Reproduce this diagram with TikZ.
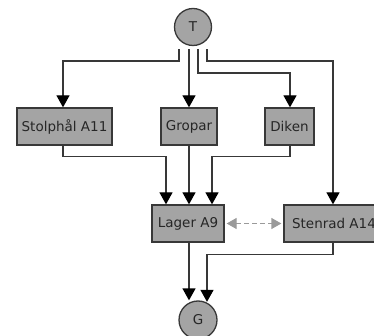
\documentclass[tikz,border=0pt]{standalone}
\usepackage{fontspec}
\setmainfont{DejaVu Sans}
\usetikzlibrary{arrows.meta}
\definecolor{boxfill}{HTML}{A4A4A4}
\definecolor{edge}{HTML}{383838}
\definecolor{dashc}{HTML}{9A9A9A}
\begin{document}
\begin{tikzpicture}[x=1pt,y=1pt,
  every node/.style={font=\fontsize{13.5}{15}\selectfont, text=black!85},
  stepbox/.style={draw=edge, fill=boxfill, line width=1.3pt, inner sep=0pt, minimum height=37pt},
  endpt/.style={circle, draw=edge, fill=boxfill, line width=1.3pt, inner sep=0pt, minimum size=37pt},
  flow/.style={draw=edge, line width=1.3pt, -{Triangle[length=12pt,width=13pt,color=black,fill=black]}},
  link/.style={draw=dashc, line width=1.3pt, dashed, dash pattern=on 5pt off 3pt, {Triangle[length=10pt,width=11pt]}-{Triangle[length=10pt,width=11pt]}, shorten <=2pt, shorten >=2pt}]
\useasboundingbox (0,0) rectangle (374,-336);
\clip (0,0) rectangle (374,-336);
\node[endpt] (T) at (193,-27) {T};
\node[stepbox, minimum width=95pt] (stolp) at (64.5,-126.5) {Stolphål A11};
\node[stepbox, minimum width=56pt] (grop) at (189,-126.5) {Gropar};
\node[stepbox, minimum width=49pt] (dike) at (289.5,-126.5) {Diken};
\node[stepbox, minimum width=72pt] (lager) at (188,-223.5) {Lager A9};
\node[stepbox, minimum width=100pt] (sten) at (334,-223.5) {Stenrad A14};
\node[endpt, minimum size=38pt] (G) at (198,-320) {G};
% from T
\draw[flow] ([xshift=-14pt,yshift=-3pt]T.south) -- ++(0,-12pt) -| ([xshift=-1.5pt]stolp.north);
\draw[flow] ([xshift=-4pt,yshift=-3pt]T.south) -- ([xshift=-4pt]T.south |- grop.north);
\draw[flow] ([xshift=5pt,yshift=-3pt]T.south) -- ++(0,-24pt) -| ([xshift=0.5pt]dike.north);
\draw[flow] ([xshift=14pt,yshift=-3pt]T.south) -- ++(0,-12pt) -| ([xshift=-1pt]sten.north);
% into Lager
\draw[flow] ([xshift=-1.5pt]stolp.south) -- ++(0,-11pt) -| ([xshift=-22pt]lager.north);
\draw[flow] (grop.south) -- (grop.south |- lager.north);
\draw[flow] ([xshift=0.5pt]dike.south) -- ++(0,-11pt) -| ([xshift=24pt]lager.north);
% into G
\draw[flow] ([xshift=1pt]lager.south) -- ([xshift=-9pt]G.north);
\draw[flow] ([xshift=-1pt]sten.south) -- ++(0,-12pt) -| ([xshift=9pt,yshift=-1.5pt]G.north);
% dashed link
\draw[link] (lager.east) -- (sten.west);
\end{tikzpicture}
\end{document}
